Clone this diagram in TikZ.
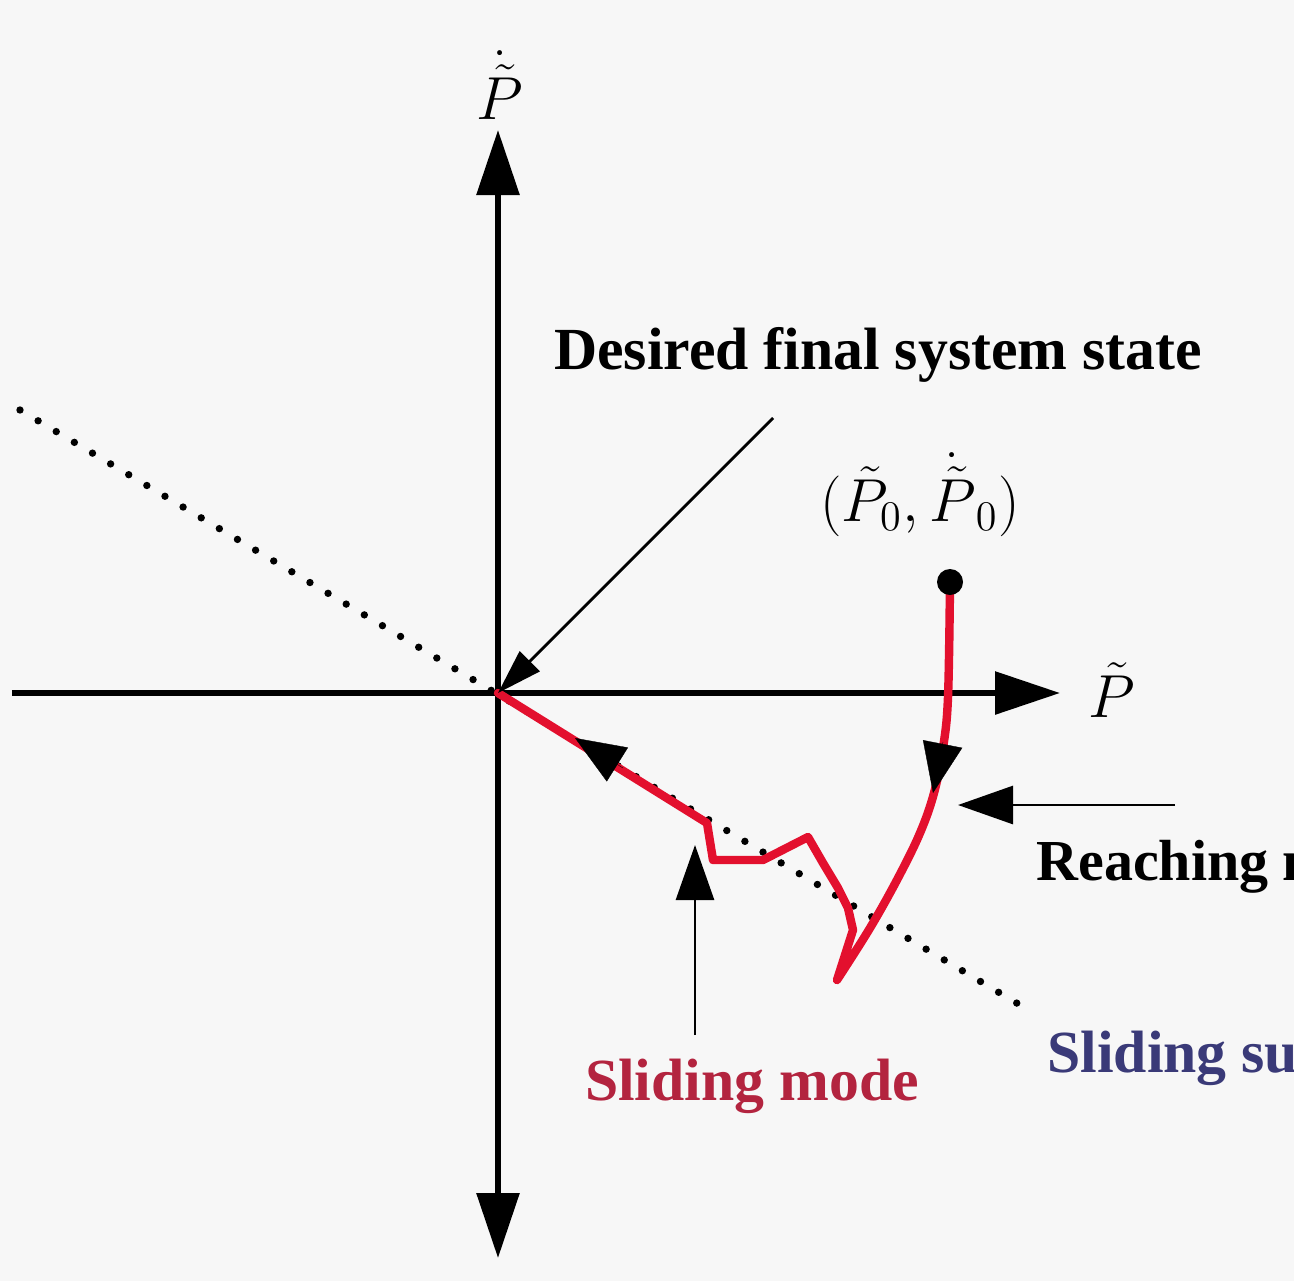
\documentclass[tikz,border=0pt]{standalone}
\usepackage{fontspec}
\setmainfont{Liberation Serif}
\usepackage{tikz}
\usetikzlibrary{positioning, calc, arrows.meta}
\definecolor{PaperGray}{HTML}{F7F7F7}
\definecolor{TrajRed}{HTML}{E3102E}
\definecolor{ModeRed}{HTML}{B3243F}
\definecolor{SurfNavy}{HTML}{3A3A78}

\begin{document}
\begin{tikzpicture}[font=\fontsize{17}{20}\selectfont\bfseries,
  axis/.style={line width=1.7pt},
  note/.style={line width=0.8pt, -{Triangle[length=5.5mm, width=3.8mm]}},
  traj/.style={TrajRed, line width=2.4pt, line join=round, line cap=round},
  tipmark/.style={line width=0.1pt, -{Triangle[length=5mm, width=4mm]}}]
  \clip (-4.98,-5.88) rectangle (7.96,6.93);
  \fill[PaperGray] (-4.98,-5.88) rectangle (7.96,6.93);
  \coordinate (o) at (0,0);

  % sliding surface
  \coordinate (s1) at (-4.78,2.83);
  \coordinate (s2) at (5.22,-3.12);
  \draw[line width=2.1pt, line cap=round, dash pattern=on 0pt off 6pt] (s1) -- (s2);

  % axes
  \coordinate (ybot) at (0,-5.65);
  \coordinate (ytop) at (0,5.63);
  \coordinate (xleft) at (-4.86,0);
  \coordinate (xright) at (5.62,0);
  \draw[axis, {Triangle[length=6.5mm, width=4.2mm]}-{Triangle[length=6.5mm, width=4.2mm]}] (ybot) -- (ytop);
  \draw[axis, -{Triangle[length=6.5mm, width=4.2mm]}] (xleft) -- (xright);
  \node (pdot) at (0.02,6.08) {$\dot{\tilde{P}}$};
  \node (ptil) at (6.14,0.03) {$\tilde{P}$};

  % trajectory
  \coordinate (p0) at (4.52,1.11);
  \node (init) at (4.22,1.98) {$(\tilde{P}_0, \dot{\tilde{P}}_0)$};
  \draw[traj] plot[smooth, tension=0.6] coordinates {(p0) (4.50,-0.04) (4.45,-0.55) (4.36,-1.0)
      (4.22,-1.4) (4.00,-1.85) (3.72,-2.35) (3.39,-2.87)}
    -- (3.55,-2.37) -- (3.50,-2.15) -- (3.40,-1.95) -- (3.25,-1.70) -- (3.10,-1.44)
    -- (2.65,-1.67) -- (2.15,-1.67) -- (2.09,-1.30) -- (o);
  \fill (p0) circle (0.13);
  \coordinate (r1) at (4.45,-0.49);
  \coordinate (r2) at (4.35,-1.00);
  \draw[tipmark] (r1) -- (r2);
  \coordinate (m1) at (1.25,-0.75);
  \coordinate (m2) at (0.77,-0.45);
  \draw[tipmark] (m1) -- (m2);

  % labels
  \node (desired) at (3.80,3.38) {Desired final system state};
  \coordinate (dtail) at (2.75,2.75);
  \draw[line width=0.8pt, -{Triangle[length=4.5mm, width=2.8mm]}] (dtail) -- (o);

  \node[anchor=base west, font=\fontsize{16.5}{20}\selectfont\bfseries] (reach) at (5.26,-1.87) {Reaching mode};
  \coordinate (rtail) at (6.77,-1.12);
  \coordinate (rhead) at (4.60,-1.12);
  \draw[note] (rtail) -- (rhead);

  \node[anchor=base, ModeRed] (slmode) at (2.54,-4.07) {Sliding mode};
  \coordinate (stail) at (1.97,-3.42);
  \coordinate (shead) at (1.97,-1.52);
  \draw[note] (stail) -- (shead);

  \node[anchor=base west, SurfNavy] (surf) at (5.37,-3.79) {Sliding surface};
\end{tikzpicture}
\end{document}
